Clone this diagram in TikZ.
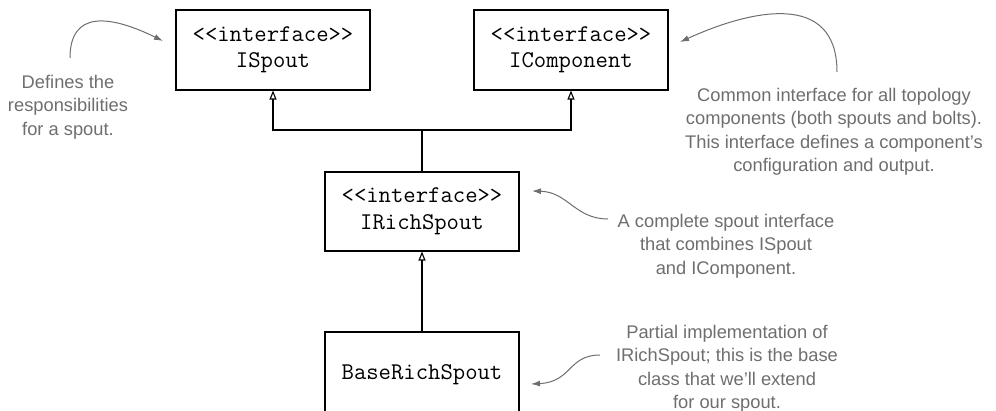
\documentclass[tikz,border=0pt]{standalone}
\usepackage{fontspec}
\setmainfont{Liberation Sans}
\usetikzlibrary{arrows.meta}
\usetikzlibrary{calc}

\definecolor{notegray}{RGB}{110,110,112}

\tikzset{
    classbox/.style = {draw, line width = 1.1pt, minimum width = 194pt, minimum height = 80pt, inner sep = 0pt, align = center, font = \ttfamily\fontsize{24}{26.5}\selectfont},
    note/.style = {text = notegray, align = center, inner sep = 0pt, font = \fontsize{18.3}{23.5}\selectfont},
    callout/.style = {notegray, line width = 1pt, -{Latex[length = 9pt, width = 6pt]}},
    uml/.style = {line width = 1.1pt, -{Triangle[open, length = 9pt, width = 7pt]}}
}

\begin{document}
\begin{tikzpicture}[x = 1pt, y = -1pt] % Spout class hierarchy
        \useasboundingbox (0, 0) rectangle (996, 411);
        \clip (0, 0) rectangle (996, 411);

        % Classes
        \node[classbox] (ispout) at (273, 50) {<<interface>>\\ISpout};
        \node[classbox] (icomp) at (571, 50) {<<interface>>\\IComponent};
        \node[classbox, minimum height = 79pt] (irich) at (422, 211.5) {<<interface>>\\IRichSpout};
        \node[classbox, minimum height = 86pt] (base) at (422, 375) {BaseRichSpout};

        % Inheritance
        \coordinate (join) at (422, 130);
        \draw[line width = 1.1pt] (irich.north) -- (join);
        \draw[uml] (join) -| (ispout.south);
        \draw[uml] (join) -| (icomp.south);
        \draw[uml] (base.north) -- (irich.south);

        % Notes
        \node[note] (ispoutnote) at (68, 107) {Defines the\\responsibilities\\for a spout.};
        \node[note] (icompnote) at (834, 132) {Common interface for all topology\\components (both spouts and bolts).\\This interface defines a component's\\configuration and output.};
        \node[note] (irichnote) at (726, 246) {A complete spout interface\\that combines ISpout\\and IComponent.};
        \node[note] (basenote) at (727, 369) {Partial implementation of\\IRichSpout; this is the base\\class that we'll extend\\for our spout.};

        % Callouts
        \coordinate (ispoutfrom) at (70, 58);
        \coordinate (ispoutto) at (163, 41);
        \coordinate (icompfrom) at (837, 72);
        \coordinate (icompto) at (680, 42);
        \coordinate (irichfrom) at (608, 219);
        \coordinate (irichto) at (532, 191);
        \coordinate (basefrom) at (600, 355);
        \coordinate (baseto) at (531, 384);
        \draw[callout] (ispoutfrom) .. controls (70, 10) and (110, 15) .. (ispoutto);
        \draw[callout] (icompfrom) .. controls (837, -10) and (750, 10) .. (icompto);
        \draw[callout] (irichfrom) .. controls (575, 219) and (568, 192) .. (irichto);
        \draw[callout] (basefrom) .. controls (568, 355) and (572, 382) .. (baseto);
\end{tikzpicture}
\end{document}
